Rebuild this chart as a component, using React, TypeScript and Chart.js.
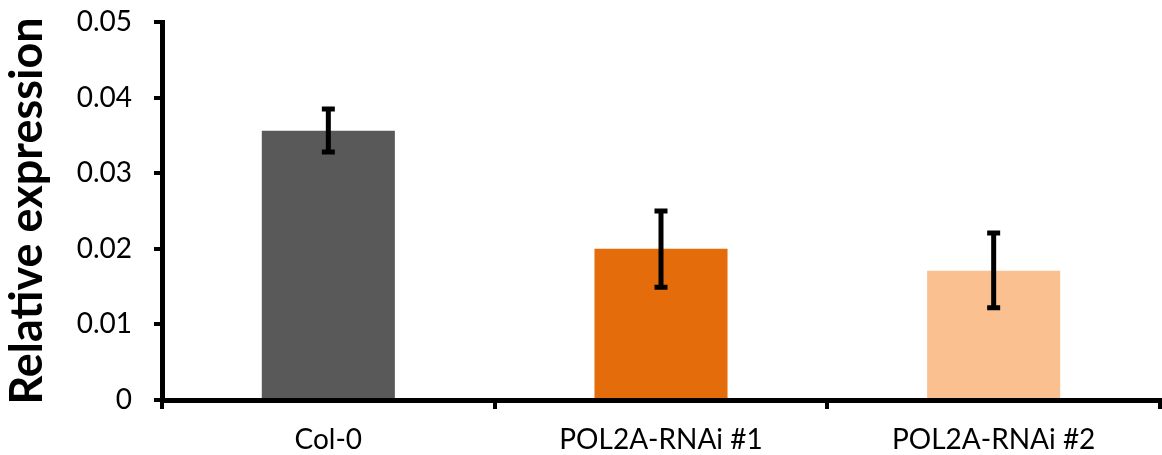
import React, { useEffect, useRef } from "react";
import { Chart, registerables } from "chart.js";

Chart.register(...registerables);

const categories = ["Col-0", "POL2A-RNAi #1", "POL2A-RNAi #2"];
const values = [0.0356, 0.02, 0.0171];
const errLow = [0.0328, 0.0149, 0.0122];
const errHigh = [0.0385, 0.025, 0.0221];
const barColors = ["#595959", "#E46C0A", "#FAC090"];
const yTicks = [0, 0.01, 0.02, 0.03, 0.04, 0.05];

const FONT = "Lato, 'Open Sans', sans-serif";

const errorBarPlugin = {
  id: "errorBars",
  afterDatasetsDraw(chart: any) {
    const { ctx, scales } = chart;
    const x = scales.x;
    const y = scales.y;
    ctx.save();
    ctx.strokeStyle = "#000";
    categories.forEach((_, i) => {
      const cx = x.getPixelForValue(i);
      const yt = y.getPixelForValue(errHigh[i]);
      const yb = y.getPixelForValue(errLow[i]);
      ctx.lineWidth = 5;
      ctx.beginPath();
      ctx.moveTo(cx, yt);
      ctx.lineTo(cx, yb);
      ctx.stroke();
      ctx.beginPath();
      ctx.moveTo(cx - 6.5, yt);
      ctx.lineTo(cx + 6.5, yt);
      ctx.moveTo(cx - 6.5, yb);
      ctx.lineTo(cx + 6.5, yb);
      ctx.stroke();
    });
    ctx.restore();
  },
};

export default function App() {
  const ref = useRef<HTMLCanvasElement>(null);
  useEffect(() => {
    document.body.style.margin = "0";
    const chart = new Chart(ref.current!, {
      type: "bar",
      data: {
        labels: categories,
        datasets: [
          {
            data: values,
            backgroundColor: barColors,
            borderWidth: 0,
            categoryPercentage: 1,
            barPercentage: 0.4,
          },
        ],
      },
      options: {
        animation: false,
        responsive: false,
        devicePixelRatio: 1,
        layout: { padding: { left: 0, top: 22, right: 2, bottom: 0 } },
        plugins: { legend: { display: false }, tooltip: { enabled: false } },
        scales: {
          x: {
            grid: {
              drawOnChartArea: false,
              color: "#000",
              lineWidth: 4,
              tickLength: 9,
              offset: true,
            },
            border: { color: "#000", width: 5 },
            ticks: {
              color: "#000",
              font: { family: FONT, size: 28 },
              padding: 14,
              maxRotation: 0,
            },
            afterFit(scale: any) {
              scale.height = 55;
              scale.paddingLeft = 0;
              scale.paddingRight = 0;
            },
          },
          y: {
            min: 0,
            max: 0.05,
            afterBuildTicks(scale: any) {
              scale.ticks = yTicks.map((v) => ({ value: v }));
            },
            grid: {
              drawOnChartArea: false,
              color: "#000",
              lineWidth: 4,
              tickLength: 8,
            },
            border: { color: "#000", width: 5 },
            ticks: {
              color: "#000",
              font: { family: FONT, size: 28 },
              padding: 22,
              callback: (v: any) => (v === 0 ? "0" : Number(v).toFixed(2)),
            },
            title: {
              display: true,
              text: "Relative expression",
              color: "#000",
              font: { family: FONT, size: 45, weight: "bold" },
              padding: { top: 0, bottom: 12 },
            },
            afterFit(scale: any) {
              scale.width = 162;
              scale.paddingTop = 0;
              scale.paddingBottom = 0;
            },
          },
        },
      },
      plugins: [errorBarPlugin],
    });
    return () => chart.destroy();
  }, []);
  return <canvas ref={ref} width={1162} height={455} style={{ display: "block" }} />;
}
